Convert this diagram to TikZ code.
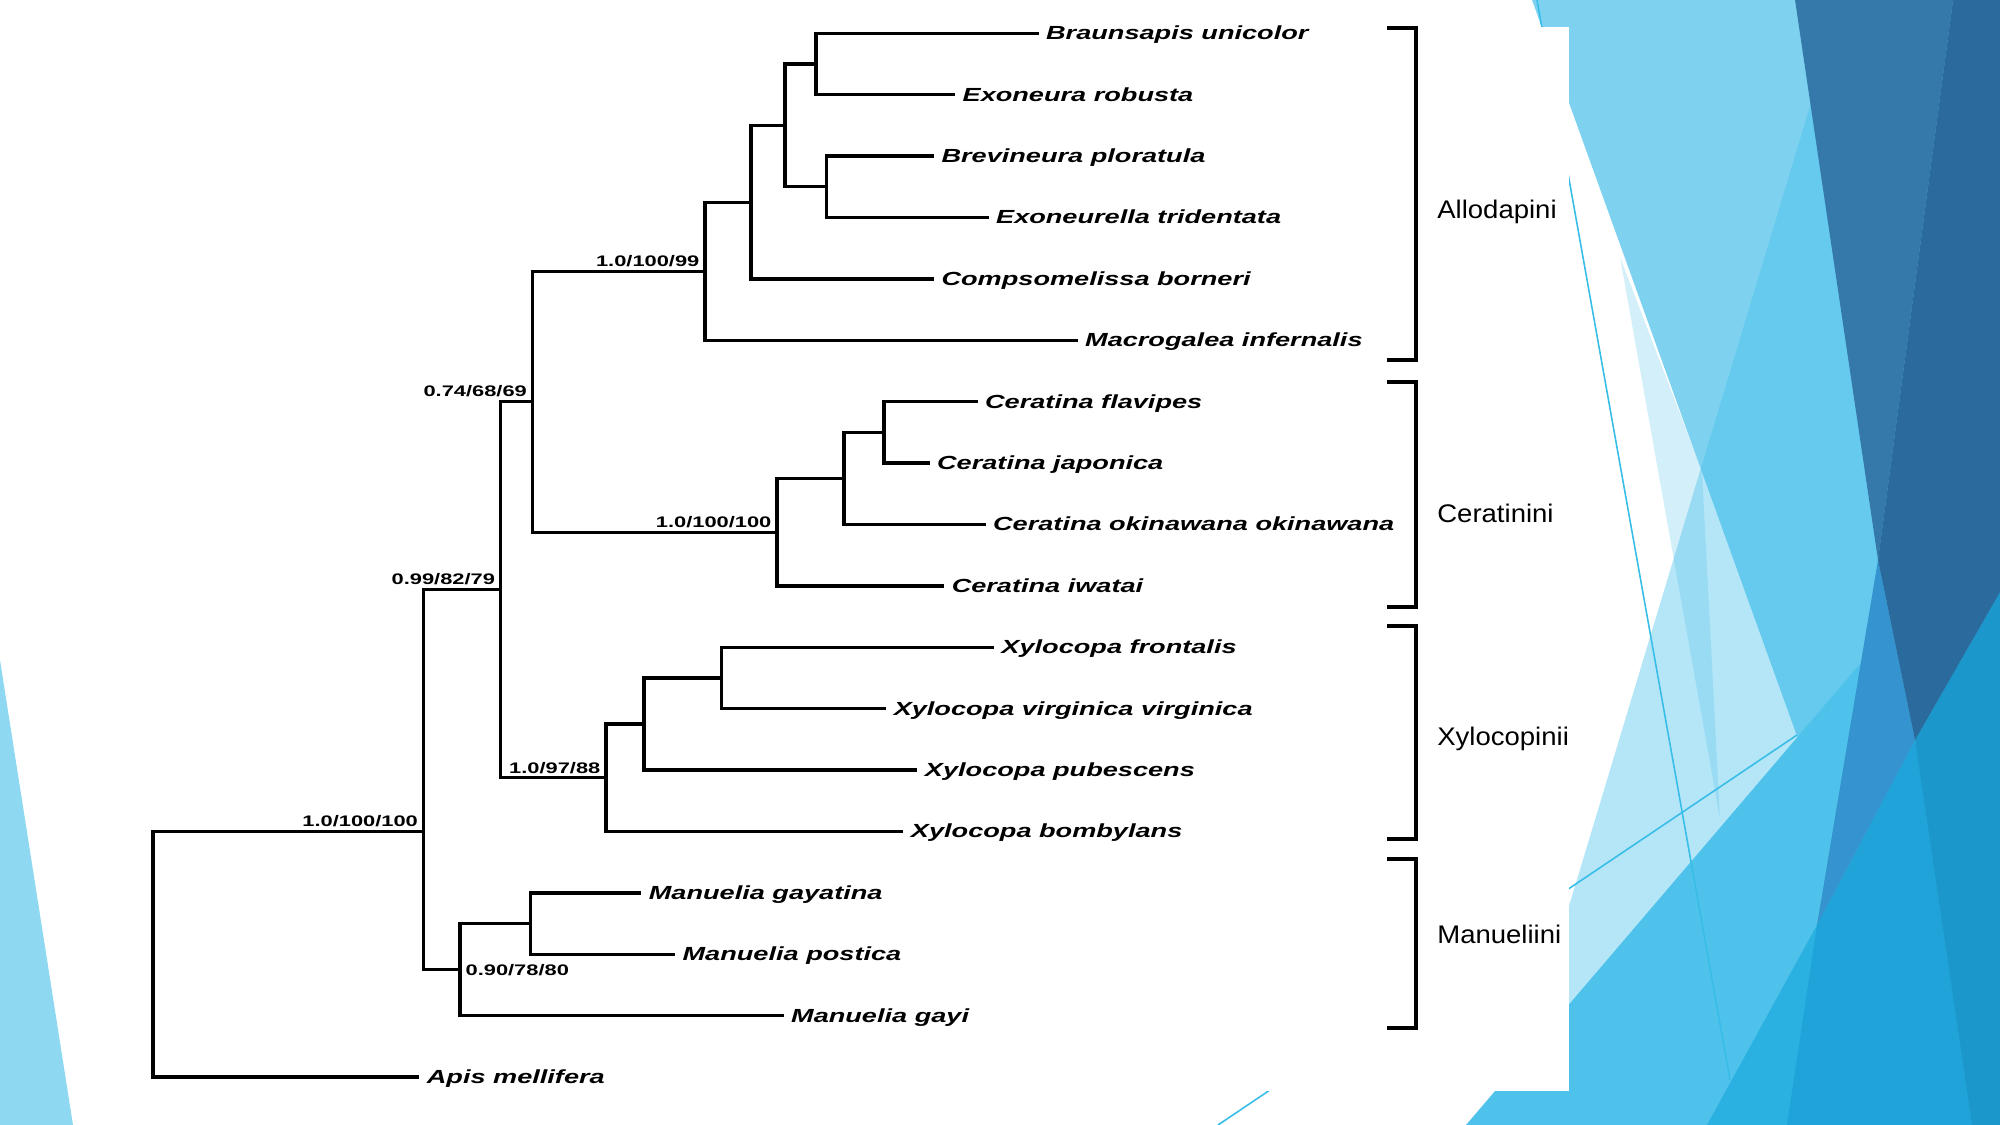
\documentclass[tikz,border=0pt]{standalone}
\usepackage{fontspec}
\setmainfont{Liberation Sans}
\newfontfamily\taxonfont[FakeStretch=1.43]{Liberation Sans}
\newfontfamily\tribefont[FakeStretch=1.08]{Liberation Sans}
\usepackage{tikz}
\usetikzlibrary{positioning,calc}
\usepackage{xcolor}
\definecolor{facetPale}{HTML}{8ED9F1}
\definecolor{facetLight}{HTML}{7ED2F0}
\definecolor{facetCyan}{HTML}{40BEEA}
\definecolor{facetSky}{HTML}{4EC2EA}
\definecolor{facetAzure}{HTML}{2AB1E2}
\definecolor{facetDeep}{HTML}{1FA3D9}
\definecolor{facetDeeper}{HTML}{1B97CB}
\definecolor{facetViolet}{HTML}{3593CF}
\definecolor{facetNavy}{HTML}{3479A9}
\definecolor{facetNavyDark}{HTML}{2A6A9D}
\definecolor{facetThin}{HTML}{38BDE9}
\definecolor{facetMist}{HTML}{D2EFFA}
\tikzset{
    branch/.style={line width=1.9pt, line cap=rect, line join=miter},
    taxon/.style={
        anchor=west,
        inner xsep=5pt,
        inner ysep=0pt,
        text height=0.9em,
        text depth=0.18em,
        font=\taxonfont\fontsize{10.8}{12}\selectfont\bfseries\itshape
    },
    support/.style={
        anchor=south east,
        inner xsep=3pt,
        inner ysep=2.5pt,
        text depth=0pt,
        font=\taxonfont\fontsize{8.7}{10}\selectfont\bfseries
    },
    tribe/.style={
        anchor=west,
        inner sep=0pt,
        text height=0.9em,
        text depth=0.18em,
        font=\tribefont\fontsize{14.5}{16}\selectfont
    },
    bracket/.style={line width=2.3pt, line join=miter},
    facetLine/.style={draw=facetThin, line width=0.9pt},
}

\begin{document}
\begin{tikzpicture}[x=0.02cm, y=-0.02cm]
    \useasboundingbox (0,0) rectangle (2000,1125);

    % Slide background facets
    \fill[facetPale] (0,660) -- (73,1125) -- (0,1125) -- cycle;
    \fill[facetMist] (1620,257) -- (1720,819) -- (1702,471) -- cycle;
    \fill[facetLight] (1532,0) -- (2000,0) -- (2000,1125) -- (1937,1125) -- cycle;
    \fill[facetCyan, fill opacity=0.39] (1842,0) -- (2000,0) -- (2000,1125) -- (1503,1125) -- cycle;
    \fill[facetSky] (1466,1125) -- (2000,500) -- (2000,1125) -- cycle;
    \fill[facetAzure] (1707,1125) -- (2000,592) -- (2000,1125) -- cycle;
    \fill[facetDeep] (1817,925) -- (1915,740) -- (1972,1125) -- (1787,1125) -- cycle;
    \fill[facetDeeper] (1915,740) -- (2000,592) -- (2000,1125) -- (1972,1125) -- cycle;
    \fill[facetViolet] (1878,560) -- (1915,740) -- (1817,925) -- cycle;
    \fill[facetNavy] (1795,0) -- (1953,0) -- (1878,560) -- cycle;
    \fill[facetNavyDark] (1953,0) -- (2000,0) -- (2000,592) -- (1915,740) -- (1878,560) -- cycle;
    \draw[facetLine] (1218,1125) -- (1797,735);
    \draw[facetLine] (1537,0) -- (1730,1080);

    % Figure panel
    \fill[white] (130,27) rectangle (1569,1091);

    % Tips
    \node[taxon] (braunsapis) at (1037,33.3) {Braunsapis unicolor};
    \node[taxon] (exoneura) at (953.5,94.7) {Exoneura robusta};
    \node[taxon] (brevineura) at (932.4,156.1) {Brevineura ploratula};
    \node[taxon] (exoneurella) at (987,217.5) {Exoneurella tridentata};
    \node[taxon] (compsomelissa) at (932.4,278.9) {Compsomelissa borneri};
    \node[taxon] (macrogalea) at (1076,340.3) {Macrogalea infernalis};
    \node[taxon] (flavipes) at (976,401.7) {Ceratina flavipes};
    \node[taxon] (japonica) at (928,463.1) {Ceratina japonica};
    \node[taxon] (okinawana) at (984,524.5) {Ceratina okinawana okinawana};
    \node[taxon] (iwatai) at (942.6,585.9) {Ceratina iwatai};
    \node[taxon] (frontalis) at (992.3,647.3) {Xylocopa frontalis};
    \node[taxon] (virginica) at (884.6,708.7) {Xylocopa virginica virginica};
    \node[taxon] (pubescens) at (915.8,770.1) {Xylocopa pubescens};
    \node[taxon] (bombylans) at (901.8,831.5) {Xylocopa bombylans};
    \node[taxon] (gayatina) at (639.7,892.9) {Manuelia gayatina};
    \node[taxon] (postica) at (673.5,954.3) {Manuelia postica};
    \node[taxon] (gayi) at (782,1015.7) {Manuelia gayi};
    \node[taxon] (apis) at (417.7,1077.1) {Apis mellifera};

    % Internal nodes
    \coordinate (nA) at (816,64);
    \coordinate (nB) at (826.5,186.8);
    \coordinate (nC) at (785,125.4);
    \coordinate (nD) at (751,202.2);
    \coordinate (nE) at (705,271.2);
    \coordinate (nF) at (884,432.4);
    \coordinate (nG) at (844,478.4);
    \coordinate (nH) at (777,532.2);
    \coordinate (nI) at (532.5,401.7);
    \coordinate (nJ) at (721.5,678);
    \coordinate (nK) at (644,724);
    \coordinate (nL) at (606,777.8);
    \coordinate (nM) at (500.6,589.7);
    \coordinate (nN) at (530.6,923.6);
    \coordinate (nO) at (460,969.7);
    \coordinate (nP) at (423.5,831.6);
    \coordinate (nR) at (153,954);

    % Branches
    \foreach \p/\c in {nA/braunsapis.west, nA/exoneura.west, nB/brevineura.west, nB/exoneurella.west,
                       nC/nA, nC/nB, nD/nC, nD/compsomelissa.west, nE/nD, nE/macrogalea.west,
                       nF/flavipes.west, nF/japonica.west, nG/nF, nG/okinawana.west, nH/nG, nH/iwatai.west,
                       nI/nE, nI/nH, nJ/frontalis.west, nJ/virginica.west, nK/nJ, nK/pubescens.west,
                       nL/nK, nL/bombylans.west, nM/nI, nM/nL, nN/gayatina.west, nN/postica.west,
                       nO/nN, nO/gayi.west, nP/nM, nP/nO, nR/nP, nR/apis.west}
        \draw[branch] (\p) |- (\c);

    % Support values
    \node[support] (sE) at (nE) {1.0/100/99};
    \node[support] (sH) at (nH) {1.0/100/100};
    \node[support] (sI) at (nI) {0.74/68/69};
    \node[support] (sL) at (nL) {1.0/97/88};
    \node[support] (sM) at (nM) {0.99/82/79};
    \node[support] (sP) at (nP) {1.0/100/100};
    \node[support, anchor=west] (sO) at (nO) {0.90/78/80};

    % Tribes
    \foreach \top/\bot in {28/359.7, 382/607, 626/839, 859/1028}
        \draw[bracket] (1387,\top) -- (1416,\top) -- (1416,\bot) -- (1387,\bot);
    \node[tribe] (allodapini) at (1437,212) {Allodapini};
    \node[tribe] (ceratinini) at (1437,516.6) {Ceratinini};
    \node[tribe] (xylocopini) at (1437,739.6) {Xylocopinii};
    \node[tribe] (manueliini) at (1437,937.6) {Manueliini};
\end{tikzpicture}
\end{document}
